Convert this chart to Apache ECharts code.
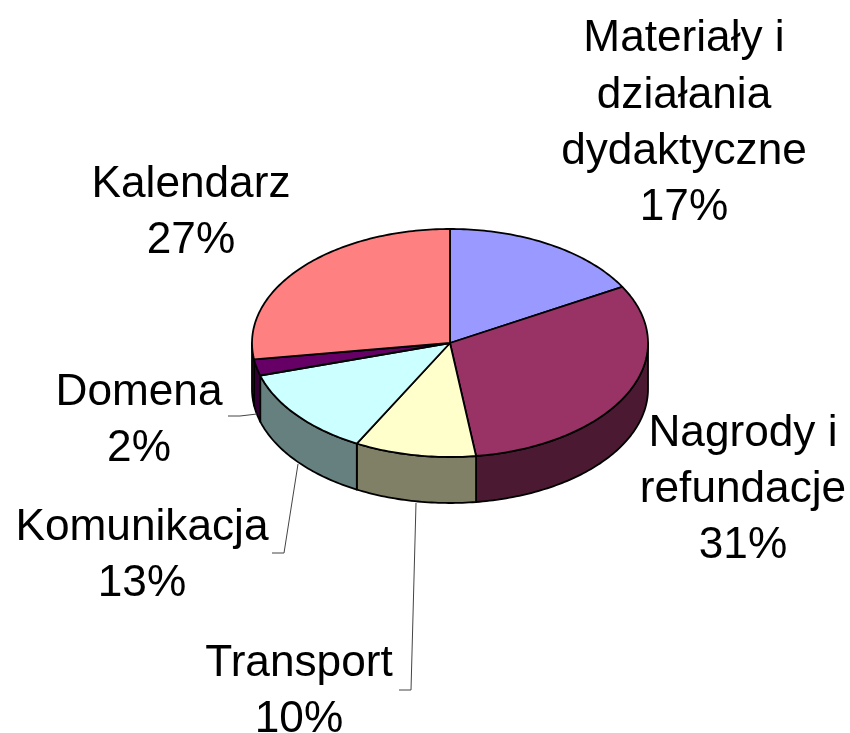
<!DOCTYPE html>
<html><head><meta charset="utf-8">
<style>html,body{margin:0;padding:0;background:#fff}#c{width:850px;height:733px}</style>
<script src="https://cdn.jsdelivr.net/npm/echarts@6/dist/echarts.min.js"></script>
</head><body><div id="c"></div>
<script>
const categories = ['Materiały i\ndziałania\ndydaktyczne','Nagrody i\nrefundacje','Transport','Komunikacja','Domena','Kalendarz'];
const shareValues = [16.8, 31.1, 9.9, 12.6, 2.3, 27.3];
const topColors = ['#9999FF','#993366','#FFFFCC','#CCFFFF','#660066','#FF8080'];
const wallColors = ['#4C4C80','#4C1933','#808066','#668080','#330033','#804040'];
const labelCenters = [[684,123.5],[743,490],[299,692],[142,556],[139,421],[191,213]];
const leaders = [null,null,[[399,690],[411,690],[416,503]],[[272,553],[284,553],[298,464]],[[228,416],[240,416],[257,414]],null];
const pie = {cx:450, cy:343, rx:198, ry:114, depth:46};
const total = shareValues.reduce((a,b)=>a+b,0);
const pt = (deg,dy)=>{const r=deg*Math.PI/180;return [pie.cx+pie.rx*Math.sin(r), pie.cy-pie.ry*Math.cos(r)+(dy||0)];};
function arc(a0,a1,dy){const n=Math.max(2,Math.ceil(Math.abs(a1-a0)));const out=[];for(let k=0;k<=n;k++)out.push(pt(a0+(a1-a0)*k/n,dy));return out;}
function renderItem(params,api){
  const i=params.dataIndex;
  let before=0;for(let k=0;k<i;k++)before+=shareValues[k];
  const v=api.value(0);
  const a0=before/total*360,a1=(before+v)/total*360;
  const children=[];
  const f0=Math.max(a0,90),f1=Math.min(a1,270);
  if(f1>f0){
    children.push({type:'polygon',z2:1,shape:{points:arc(f0,f1,0).concat(arc(f1,f0,pie.depth))},
      style:{fill:wallColors[i],stroke:'#000',lineWidth:1.8,lineJoin:'round'}});
  }
  children.push({type:'polygon',z2:2,shape:{points:[[pie.cx,pie.cy]].concat(arc(a0,a1,0))},
    style:{fill:topColors[i],stroke:'#000',lineWidth:1.8,lineJoin:'round'}});
  if(leaders[i]) children.push({type:'polyline',z2:3,shape:{points:leaders[i]},style:{fill:null,stroke:'#444',lineWidth:1}});
  children.push({type:'text',z2:4,x:labelCenters[i][0],y:labelCenters[i][1],
    style:{text:categories[i]+'\n'+Math.round(v/total*100)+'%',fill:'#000',align:'center',verticalAlign:'middle',
      font:'44.2px "Liberation Sans", Arial, sans-serif',lineHeight:56.3}});
  return {type:'group',children};
}
const chart=echarts.init(document.getElementById('c'),null,{renderer:'canvas'});
chart.setOption({animation:false,backgroundColor:'#fff',
  series:[{type:'custom',coordinateSystem:'none',silent:true,clip:false,renderItem,
    data:shareValues.map((v,i)=>({name:categories[i],value:[v]}))}]});
</script></body></html>
